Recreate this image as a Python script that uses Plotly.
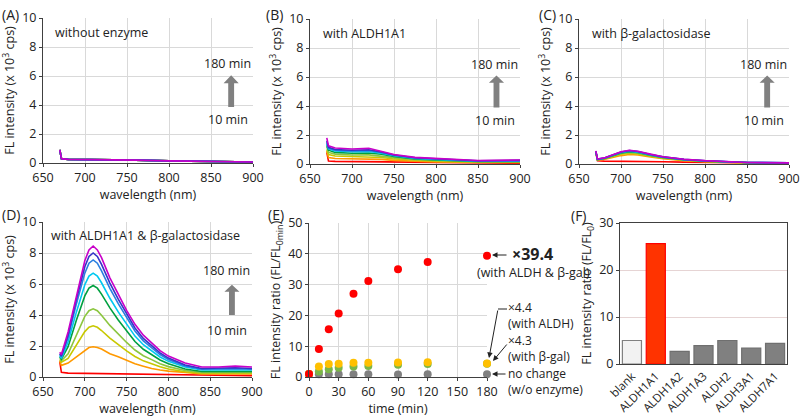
import plotly.graph_objects as go

# ---------------- data ----------------
TIME_LABELS = ["0 min", "10 min", "20 min", "30 min", "45 min", "60 min", "90 min", "120 min", "180 min"]
SPEC_COLORS = ["#ff0000", "#ff9900", "#c8c800", "#8cc63f", "#00a040", "#00c8f0", "#2a7fe0", "#3535c8", "#c800c8"]

WL_A = [670, 672, 680, 700, 730, 760, 800, 850, 900]
A_SPECTRA = [[0.9, 0.3, 0.25, 0.25, 0.25, 0.2, 0.15, 0.1, 0.07]] * 9

WL_B = [670, 672, 680, 700, 720, 735, 750, 775, 800, 850, 900]
B_SPECTRA = [
    [0.8, 0.2, 0.18, 0.17, 0.16, 0.15, 0.13, 0.1, 0.08, 0.06, 0.05],
    [0.9, 0.45, 0.38, 0.35, 0.35, 0.32, 0.25, 0.18, 0.14, 0.1, 0.1],
    [1.0, 0.65, 0.55, 0.5, 0.5, 0.45, 0.35, 0.25, 0.19, 0.13, 0.12],
    [1.2, 0.8, 0.68, 0.62, 0.63, 0.56, 0.44, 0.3, 0.24, 0.16, 0.15],
    [1.3, 0.95, 0.8, 0.74, 0.76, 0.67, 0.52, 0.35, 0.28, 0.18, 0.18],
    [1.4, 1.05, 0.9, 0.84, 0.86, 0.75, 0.57, 0.38, 0.31, 0.2, 0.2],
    [1.5, 1.1, 0.95, 0.9, 0.93, 0.8, 0.6, 0.41, 0.34, 0.21, 0.23],
    [1.6, 1.15, 1.0, 0.95, 0.98, 0.83, 0.62, 0.43, 0.36, 0.22, 0.25],
    [1.8, 1.25, 1.1, 1.03, 1.08, 0.88, 0.65, 0.46, 0.39, 0.24, 0.28],
]

WL_C = [670, 672, 680, 690, 700, 710, 720, 735, 750, 775, 800, 850, 900]
C_SPECTRA = [
    [0.85, 0.22, 0.2, 0.2, 0.19, 0.19, 0.18, 0.17, 0.16, 0.13, 0.11, 0.08, 0.06],
    [0.8, 0.28, 0.31, 0.45, 0.58, 0.66, 0.62, 0.48, 0.36, 0.23, 0.16, 0.08, 0.06],
    [0.82, 0.3, 0.34, 0.51, 0.67, 0.75, 0.7, 0.54, 0.4, 0.26, 0.18, 0.09, 0.07],
    [0.84, 0.3, 0.36, 0.55, 0.72, 0.8, 0.75, 0.58, 0.43, 0.28, 0.19, 0.09, 0.07],
    [0.85, 0.31, 0.38, 0.58, 0.76, 0.85, 0.79, 0.61, 0.45, 0.29, 0.2, 0.1, 0.07],
    [0.86, 0.32, 0.39, 0.6, 0.79, 0.88, 0.82, 0.63, 0.47, 0.3, 0.21, 0.1, 0.08],
    [0.87, 0.33, 0.4, 0.62, 0.81, 0.91, 0.84, 0.65, 0.48, 0.31, 0.22, 0.1, 0.08],
    [0.88, 0.34, 0.41, 0.63, 0.83, 0.93, 0.86, 0.66, 0.49, 0.32, 0.22, 0.1, 0.08],
    [0.9, 0.35, 0.42, 0.65, 0.85, 0.95, 0.88, 0.68, 0.5, 0.33, 0.23, 0.1, 0.08],
]

WL_D = [670, 672, 680, 690, 700, 705, 710, 715, 720, 730, 740, 750, 760, 770, 780, 790, 800, 820, 840, 860, 880, 900]
D_SPECTRA = [
    [1.0, 0.3, 0.25, 0.24, 0.23, 0.23, 0.23, 0.22, 0.22, 0.21, 0.2, 0.19, 0.18, 0.17, 0.16, 0.15, 0.14, 0.12, 0.11, 0.1, 0.1, 0.09],
    [1.0, 0.75, 0.9, 1.3, 1.75, 1.9, 1.95, 1.9, 1.8, 1.5, 1.3, 1.05, 0.85, 0.7, 0.55, 0.45, 0.38, 0.3, 0.2, 0.2, 0.2, 0.2],
    [1.1, 0.95, 1.2, 2.08, 2.93, 3.21, 3.3, 3.21, 3.0, 2.51, 2.08, 1.68, 1.32, 1.04, 0.86, 0.66, 0.52, 0.34, 0.25, 0.25, 0.27, 0.25],
    [1.2, 1.05, 1.49, 2.76, 3.91, 4.28, 4.4, 4.28, 3.99, 3.33, 2.76, 2.23, 1.74, 1.37, 1.12, 0.85, 0.67, 0.42, 0.3, 0.3, 0.32, 0.3],
    [1.3, 1.15, 1.96, 3.68, 5.23, 5.73, 5.9, 5.73, 5.35, 4.46, 3.68, 2.96, 2.29, 1.79, 1.46, 1.1, 0.85, 0.52, 0.35, 0.36, 0.38, 0.35],
    [1.35, 1.2, 2.26, 4.2, 5.95, 6.51, 6.7, 6.51, 6.08, 5.08, 4.2, 3.39, 2.64, 2.08, 1.7, 1.29, 1.01, 0.64, 0.45, 0.46, 0.48, 0.45],
    [1.45, 1.3, 2.54, 4.73, 6.7, 7.34, 7.55, 7.34, 6.85, 5.72, 4.73, 3.81, 2.97, 2.33, 1.91, 1.45, 1.13, 0.71, 0.5, 0.52, 0.54, 0.5],
    [1.5, 1.35, 2.71, 5.02, 7.11, 7.78, 8.0, 7.78, 7.26, 6.06, 5.02, 4.05, 3.16, 2.49, 2.04, 1.56, 1.22, 0.77, 0.55, 0.57, 0.6, 0.55],
    [1.6, 1.45, 2.9, 5.3, 7.5, 8.2, 8.45, 8.2, 7.7, 6.4, 5.3, 4.3, 3.4, 2.7, 2.2, 1.7, 1.35, 0.9, 0.65, 0.65, 0.7, 0.65],
]

TIMES = [0, 10, 20, 30, 45, 60, 90, 120, 180]
RATIO_BOTH = [1, 9.1, 15.5, 20.6, 27.0, 31.2, 35.0, 37.3, 39.4]
RATIO_ALDH = [1, 3.4, 4.2, 4.3, 4.6, 4.6, 4.7, 4.8, 4.4]
RATIO_BGAL = [1, 1.8, 2.5, 3.0, 3.4, 3.6, 4.0, 4.2, 4.3]
RATIO_NONE = [1, 0.9, 0.9, 0.9, 0.9, 0.9, 0.8, 0.9, 0.9]

ENZYMES = ["blank", "ALDH1A1", "ALDH1A2", "ALDH1A3", "ALDH2", "ALDH3A1", "ALDH7A1"]
ENZ_RATIO = [5.0, 25.6, 2.7, 3.9, 5.0, 3.4, 4.4]
BAR_FILL = ["#f2f2f2", "#ff3300", "#808080", "#808080", "#808080", "#808080", "#808080"]
BAR_LINE = ["#808080", "#ff0000", "#6f6f6f", "#6f6f6f", "#6f6f6f", "#6f6f6f", "#6f6f6f"]

# ---------------- figure ----------------
W, H = 800, 417
FONT = "Open Sans"
AX = "#404040"
GRID = "#d9d9d9"
TXT = "#222222"

def px_x(p):
    return p / W

def px_y(p):
    return 1 - p / H

fig = go.Figure()

spec_panels = [
    ("x", "y", WL_A, A_SPECTRA),
    ("x2", "y2", WL_B, B_SPECTRA),
    ("x3", "y3", WL_C, C_SPECTRA),
    ("x4", "y4", WL_D, D_SPECTRA),
]
for xa, ya, wl, spectra in spec_panels:
    for i, ys in enumerate(spectra):
        fig.add_trace(go.Scatter(x=wl, y=ys, mode="lines", xaxis=xa, yaxis=ya,
                                 line=dict(color=SPEC_COLORS[i], width=1.6),
                                 name=TIME_LABELS[i], showlegend=False))

for ys, col in [(RATIO_NONE, "#808080"), (RATIO_BGAL, "#7ab648"), (RATIO_ALDH, "#ffc000"), (RATIO_BOTH, "#ff0000")]:
    fig.add_trace(go.Scatter(x=TIMES, y=ys, mode="markers", xaxis="x5", yaxis="y5",
                             marker=dict(color=col, size=8), cliponaxis=False, showlegend=False))

fig.add_trace(go.Bar(x=ENZYMES, y=ENZ_RATIO, xaxis="x6", yaxis="y6",
                     marker=dict(color=BAR_FILL, line=dict(color=BAR_LINE, width=1.2)),
                     showlegend=False))

tickf = dict(family=FONT, size=12.5, color=TXT)
titlef = dict(family=FONT, size=12.5, color=TXT)

def ax(dom, anchor, **kw):
    d = dict(domain=dom, anchor=anchor, showline=True, linecolor=AX, linewidth=1,
             ticks="outside", ticklen=3, tickcolor=AX, showgrid=True, gridcolor=GRID,
             tickfont=tickf, zeroline=False, automargin=False)
    d.update(kw)
    return d

ytitle_spec = dict(text="FL intensity (x 10<sup>3</sup> cps)", font=titlef, standoff=4)
xtitle_spec = dict(text="wavelength (nm)", font=titlef, standoff=2)

top_y = [px_y(164), px_y(19)]
layout = dict(
    width=W, height=H, margin=dict(l=0, r=0, t=0, b=0, autoexpand=False),
    paper_bgcolor="white", plot_bgcolor="white",
    font=dict(family=FONT, color=TXT),
    xaxis=ax([px_x(43), px_x(253)], "y", range=[650, 900], dtick=50, title=xtitle_spec),
    yaxis=ax([px_y(163), px_y(18)], "x", range=[0, 10], dtick=2, title=ytitle_spec),
    xaxis2=ax([px_x(310), px_x(520)], "y2", range=[650, 900], dtick=50, title=xtitle_spec),
    yaxis2=ax(top_y, "x2", range=[0, 10], dtick=2, title=ytitle_spec),
    xaxis3=ax([px_x(579), px_x(789)], "y3", range=[650, 900], dtick=50, title=xtitle_spec),
    yaxis3=ax(top_y, "x3", range=[0, 10], dtick=2, title=ytitle_spec),
    xaxis4=ax([px_x(43), px_x(252)], "y4", range=[650, 900], dtick=50, title=xtitle_spec),
    yaxis4=ax([px_y(377), px_y(222)], "x4", range=[0, 10], dtick=2, title=ytitle_spec),
    xaxis5=ax([px_x(309), px_x(487)], "y5", range=[0, 180], dtick=30,
              title=dict(text="time (min)", font=titlef, standoff=2)),
    yaxis5=ax([px_y(377), px_y(223)], "x5", range=[0, 50], dtick=10,
              title=dict(text="FL intensity ratio (FL/FL<sub>0min</sub>)", font=titlef, standoff=4)),
    xaxis6=dict(domain=[px_x(620), px_x(787)], anchor="y6", showline=True, linecolor=AX, mirror=True,
                ticks="", tickangle=-45, automargin=False,
                tickfont=dict(family=FONT, size=11.5, color=TXT)),
    yaxis6=dict(domain=[px_y(364), px_y(223)], anchor="x6", range=[0, 30], dtick=10, showline=True,
                linecolor=AX, mirror=True, ticks="outside", ticklen=3, tickcolor=AX, automargin=False,
                showgrid=True, gridcolor="#e6d4d4", tickfont=tickf, zeroline=False,
                title=dict(text="FL intensity ratio (FL/FL<sub>0</sub>)", font=titlef, standoff=4)),
    bargap=0.2,
)
fig.update_layout(**layout)

ann = []
# panel labels
for lab, x, y in [("(A)", 0, 14), ("(B)", 264, 14), ("(C)", 537, 14), ("(D)", 0, 214), ("(E)", 266, 214), ("(F)", 569, 215)]:
    ann.append(dict(text=lab, x=px_x(x), y=px_y(y), xref="paper", yref="paper", xanchor="left", yanchor="middle",
                    showarrow=False, font=dict(family=FONT, size=14, color=TXT)))

# in-panel texts
for xr, yr, txt, xf, yv in [("x", "y", "without enzyme", 0.048, 9.0),
                             ("x2", "y2", "with ALDH1A1", 0.05, 9.0),
                             ("x3", "y3", "with β-galactosidase", 0.05, 9.0),
                             ("x4", "y4", "with ALDH1A1 &amp; β-galactosidase", 0.03, 9.1)]:
    ann.append(dict(text=txt, x=xf, y=yv, xref=xr + " domain", yref=yr, xanchor="left", yanchor="middle",
                    showarrow=False, font=dict(family=FONT, size=12.5, color=TXT)))
    ann.append(dict(text="180 min", x=1.0, y=6.85, xref=xr + " domain", yref=yr, xanchor="right", yanchor="middle",
                    showarrow=False, font=dict(family=FONT, size=12.5, color=TXT)))
    ann.append(dict(text="10 min", x=0.985, y=3.0, xref=xr + " domain", yref=yr, xanchor="right", yanchor="middle",
                    showarrow=False, font=dict(family=FONT, size=12.5, color=TXT)))

# panel E side labels
def side(txt, x, y, size=12, bold=False):
    t = "<b>%s</b>" % txt if bold else txt
    ann.append(dict(text=t, x=px_x(x), y=px_y(y), xref="paper", yref="paper", xanchor="left", yanchor="middle",
                    align="left", showarrow=False, font=dict(family=FONT, size=size, color=TXT)))

side("×39.4", 510, 254, size=16, bold=True)
side("(with ALDH &amp; β-gal)", 475, 272, size=12.5)
side("×4.4<br>(with ALDH)", 506, 315, size=12)
side("×4.3<br>(with β-gal)", 506, 348, size=12)
side("no change<br>(w/o enzyme)", 506, 381, size=12)

def arrow(x0, y0, x1, y1):
    ann.append(dict(x=px_x(x1), y=px_y(y1), ax=x0 - x1, ay=y0 - y1, xref="paper", yref="paper",
                    axref="pixel", ayref="pixel", showarrow=True, arrowhead=2, arrowsize=1.1,
                    arrowwidth=1, arrowcolor=TXT, text=""))

arrow(508, 255, 492, 255)
arrow(498, 309, 489, 358)
arrow(508, 343, 493, 361)
arrow(507, 374, 492, 374)

fig.update_layout(annotations=ann)

# connector segment of ×4.4 arrow and gray block arrows
shapes = [dict(type="line", xref="paper", yref="paper", x0=px_x(498), y0=px_y(309), x1=px_x(507), y1=px_y(309),
               line=dict(color=TXT, width=1))]
for xr, yr, cx, tail, base, tip in [("x", "y", 874, 3.86, 5.5, 6.05), ("x2", "y2", 872, 3.9, 5.6, 6.1),
                                    ("x3", "y3", 874, 3.9, 5.6, 6.1), ("x4", "y4", 876, 4.0, 5.5, 5.95)]:
    p = "M %g %g L %g %g L %g %g L %g %g L %g %g L %g %g L %g %g Z" % (
        cx - 3.5, tail, cx + 3.5, tail, cx + 3.5, base, cx + 9, base, cx, tip, cx - 9, base, cx - 3.5, base)
    shapes.append(dict(type="path", xref=xr, yref=yr, path=p, fillcolor="#808080", line=dict(width=0)))
fig.update_layout(shapes=shapes)

fig.write_html("out.html", config={"displayModeBar": False},
               post_script="document.body.style.margin='0px';document.body.style.overflow='hidden';")
